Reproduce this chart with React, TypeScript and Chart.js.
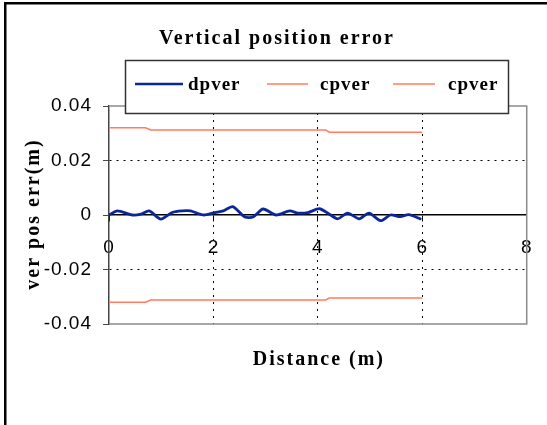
import React, { useEffect, useRef } from "react";
import { Chart, registerables } from "chart.js";
Chart.register(...registerables);

const chartTitle = "Vertical position error";
const xTitle = "Distance (m)";
const yTitle = "ver pos err(m)";
const seriesLabels = ["dpver", "cpver", "cpver"];
const seriesColors = ["#0c2898", "#ff7c60", "#ff7c60"];

const dpverX = [0, 0.16, 0.45, 0.61, 0.77, 0.99, 1.21, 1.4, 1.56, 1.81, 2.03, 2.19, 2.37, 2.6, 2.76, 2.95, 3.2, 3.46, 3.62, 3.81, 4.03, 4.22, 4.38, 4.57, 4.79, 4.98, 5.2, 5.39, 5.58, 5.74, 5.96];
const dpverY = [0, 0.0015, 0, 0.0003, 0.0015, -0.0015, 0.0009, 0.0015, 0.0015, 0, 0.0009, 0.0015, 0.0031, -0.0007, -0.0007, 0.0022, 0, 0.0015, 0.0007, 0.0009, 0.0023, 0.0003, -0.0014, 0.0007, -0.0014, 0.0007, -0.0021, 0, -0.0006, 0.0001, -0.0014];

const cpverX = [0, 0.7, 0.8, 4.15, 4.22, 6.0];
const cpverUpperY = [0.032, 0.032, 0.0312, 0.0312, 0.0304, 0.0304];
const cpverLowerY = [-0.032, -0.032, -0.0312, -0.0312, -0.0305, -0.0305];

const xTicks = [0, 2, 4, 6, 8];
const xTickLabels = ["0", "2", "4", "6", "8"];
const yTicks = [-0.04, -0.02, 0, 0.02, 0.04];
const yTickLabels = ["-0.04", "-0.02", "0", "0.02", "0.04"];

const toPoints = (xs: number[], ys: number[]) => xs.map((x, i) => ({ x, y: ys[i] }));

const W = 547;
const H = 425;

const decor = {
  id: "decor",
  beforeDraw(chart: any) {
    const ctx = chart.ctx;
    ctx.save();
    ctx.fillStyle = "#fff";
    ctx.fillRect(0, 0, W, H);
    ctx.fillStyle = "#000";
    ctx.fillRect(4, 2, W - 4, 2.5);
    ctx.fillRect(4, 2, 2.5, H - 2);
    ctx.restore();
    (ctx as any).letterSpacing = "1px";
  },
  beforeDatasetsDraw(chart: any) {
    const ctx = chart.ctx;
    const a = chart.chartArea;
    ctx.save();
    ctx.strokeStyle = "#8a8a8a";
    ctx.lineWidth = 1.5;
    ctx.beginPath();
    ctx.moveTo(a.left, a.top);
    ctx.lineTo(a.right, a.top);
    ctx.lineTo(a.right, a.bottom);
    ctx.lineTo(a.left, a.bottom);
    ctx.stroke();
    ctx.restore();
  },
  afterDraw(chart: any) {
    const ctx = chart.ctx;
    const a = chart.chartArea;
    ctx.save();
    (ctx as any).letterSpacing = "2px";
    ctx.fillStyle = "#000";
    ctx.font = "bold 20px 'Liberation Serif'";
    ctx.textAlign = "center";
    ctx.textBaseline = "middle";
    ctx.fillText(chartTitle, 277, 39);
    ctx.fillText(xTitle, (a.left + a.right) / 2 + 1, 360);
    ctx.save();
    ctx.translate(34, 214);
    ctx.rotate(-Math.PI / 2);
    ctx.fillText(yTitle, 0, 0);
    ctx.restore();

    // legend
    ctx.fillStyle = "#fff";
    ctx.fillRect(125.5, 60.5, 383, 53);
    ctx.strokeStyle = "#333";
    ctx.lineWidth = 1.5;
    ctx.strokeRect(125.5, 60.5, 383, 53);
    const items = [
      { x1: 135, x2: 183, tx: 188 },
      { x1: 267, x2: 308, tx: 320 },
      { x1: 393, x2: 435, tx: 448 },
    ];
    ctx.font = "bold 19px 'Liberation Serif'";
    (ctx as any).letterSpacing = "1px";
    ctx.textAlign = "left";
    items.forEach((it, i) => {
      ctx.strokeStyle = seriesColors[i];
      ctx.lineWidth = i === 0 ? 2.5 : 1.5;
      ctx.beginPath();
      ctx.moveTo(it.x1, 84);
      ctx.lineTo(it.x2, 84);
      ctx.stroke();
      ctx.fillStyle = "#000";
      ctx.fillText(seriesLabels[i], it.tx, 85);
    });
    ctx.restore();
  },
};

export default function App() {
  const ref = useRef<HTMLCanvasElement>(null);
  useEffect(() => {
    const canvas = ref.current!;
    const tickFont = { family: "'Liberation Sans', Arial, sans-serif", size: 19 };
    const chart = new Chart(canvas, {
      type: "line",
      data: {
        datasets: [
          {
            label: seriesLabels[1],
            data: toPoints(cpverX, cpverUpperY),
            borderColor: seriesColors[1],
            borderWidth: 1.5,
            pointRadius: 0,
          },
          {
            label: seriesLabels[2],
            data: toPoints(cpverX, cpverLowerY),
            borderColor: seriesColors[2],
            borderWidth: 1.5,
            pointRadius: 0,
          },
          {
            label: seriesLabels[0],
            data: toPoints(dpverX, dpverY),
            borderColor: seriesColors[0],
            borderWidth: 2.8,
            pointRadius: 0,
            tension: 0.25,
            borderJoinStyle: "round",
            borderCapStyle: "round",
          },
        ],
      },
      plugins: [decor],
      options: {
        responsive: false,
        animation: false,
        events: [],
        layout: { padding: { left: 9, top: 106, right: 18, bottom: 101 } },
        plugins: { legend: { display: false }, title: { display: false }, tooltip: { enabled: false } },
        scales: {
          x: {
            type: "linear",
            min: 0,
            max: 8,
            position: { y: 0 } as any,
            afterBuildTicks: (s: any) => {
              s.ticks = xTicks.map((v) => ({ value: v }));
            },
            afterFit: (s: any) => {
              s.height = 0;
            },
            ticks: {
              font: tickFont,
              color: "#000",
              padding: 15,
              maxRotation: 0,
              autoSkip: false,
              callback: (v: any) => xTickLabels[xTicks.indexOf(v)],
            },
            grid: {
              color: (c: any) => (c.tick && [2, 4, 6].includes(c.tick.value) ? "#000" : "rgba(0,0,0,0)"),
              tickColor: "#000",
              tickLength: 6,
              lineWidth: 1,
            },
            border: { display: true, color: "#000", width: 1.5, dash: [2, 5] },
          },
          y: {
            type: "linear",
            position: "left",
            min: -0.04,
            max: 0.04,
            afterBuildTicks: (s: any) => {
              s.ticks = yTicks.map((v) => ({ value: v }));
            },
            afterFit: (s: any) => {
              s.width = 100;
            },
            ticks: {
              font: tickFont,
              color: "#000",
              padding: 11,
              autoSkip: false,
              callback: (v: any) => yTickLabels[yTicks.indexOf(v)],
            },
            grid: {
              color: (c: any) => (c.tick && Math.abs(Math.abs(c.tick.value) - 0.02) < 1e-9 ? "#000" : "rgba(0,0,0,0)"),
              tickColor: "#444",
              tickLength: 6,
              lineWidth: 1,
            },
            border: { display: true, color: "#444", width: 1.5, dash: [2, 5] },
          },
        },
      },
    });
    return () => chart.destroy();
  }, []);
  return (
    <canvas
      ref={ref}
      width={W}
      height={H}
      style={{ position: "absolute", left: 0, top: 0, width: W, height: H }}
    />
  );
}
